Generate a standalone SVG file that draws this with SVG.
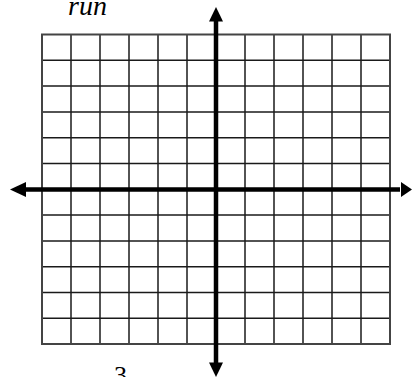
<svg xmlns="http://www.w3.org/2000/svg" width="412" height="377" viewBox="0 0 412 377">
<defs>
<style>
.grid line{stroke:#1a1a1a;stroke-width:1.5}
.border{fill:none;stroke:#444;stroke-width:2}
.axis{stroke:#000;stroke-width:4.5}
.head{fill:#000}
.lbl{font-family:"Liberation Serif",serif;fill:#000}
</style>
</defs>
<rect width="412" height="377" fill="#fff"/>
<g id="grid" class="grid">
<line x1="71" y1="34.5" x2="71" y2="344"/>
<line x1="100" y1="34.5" x2="100" y2="344"/>
<line x1="129" y1="34.5" x2="129" y2="344"/>
<line x1="158" y1="34.5" x2="158" y2="344"/>
<line x1="187" y1="34.5" x2="187" y2="344"/>
<line x1="245" y1="34.5" x2="245" y2="344"/>
<line x1="274" y1="34.5" x2="274" y2="344"/>
<line x1="303" y1="34.5" x2="303" y2="344"/>
<line x1="332" y1="34.5" x2="332" y2="344"/>
<line x1="361" y1="34.5" x2="361" y2="344"/>
<line x1="42" y1="60.3" x2="390" y2="60.3"/>
<line x1="42" y1="86.1" x2="390" y2="86.1"/>
<line x1="42" y1="111.9" x2="390" y2="111.9"/>
<line x1="42" y1="137.7" x2="390" y2="137.7"/>
<line x1="42" y1="163.5" x2="390" y2="163.5"/>
<line x1="42" y1="215.1" x2="390" y2="215.1"/>
<line x1="42" y1="240.9" x2="390" y2="240.9"/>
<line x1="42" y1="266.7" x2="390" y2="266.7"/>
<line x1="42" y1="292.5" x2="390" y2="292.5"/>
<line x1="42" y1="318.3" x2="390" y2="318.3"/>
<rect class="border" x="42" y="34.5" width="348" height="309.5"/>
</g>
<g id="connectors">
<line class="axis" x1="24" y1="189.5" x2="400" y2="189.5"/>
<line class="axis" x1="216" y1="20" x2="216" y2="364"/>
<polygon class="head" points="10,189.5 26,182 26,197"/>
<polygon class="head" points="412,189.5 401,182 401,197"/>
<polygon class="head" points="216,7 209,21.5 223,21.5"/>
<polygon class="head" points="216,377 209,362.5 223,362.5"/>
</g>
<g id="label-run"><text class="lbl" x="68" y="15" font-size="28" font-style="italic">run</text></g>
<g id="label-3"><text class="lbl" x="114" y="384" font-size="26">3</text></g>
</svg>
